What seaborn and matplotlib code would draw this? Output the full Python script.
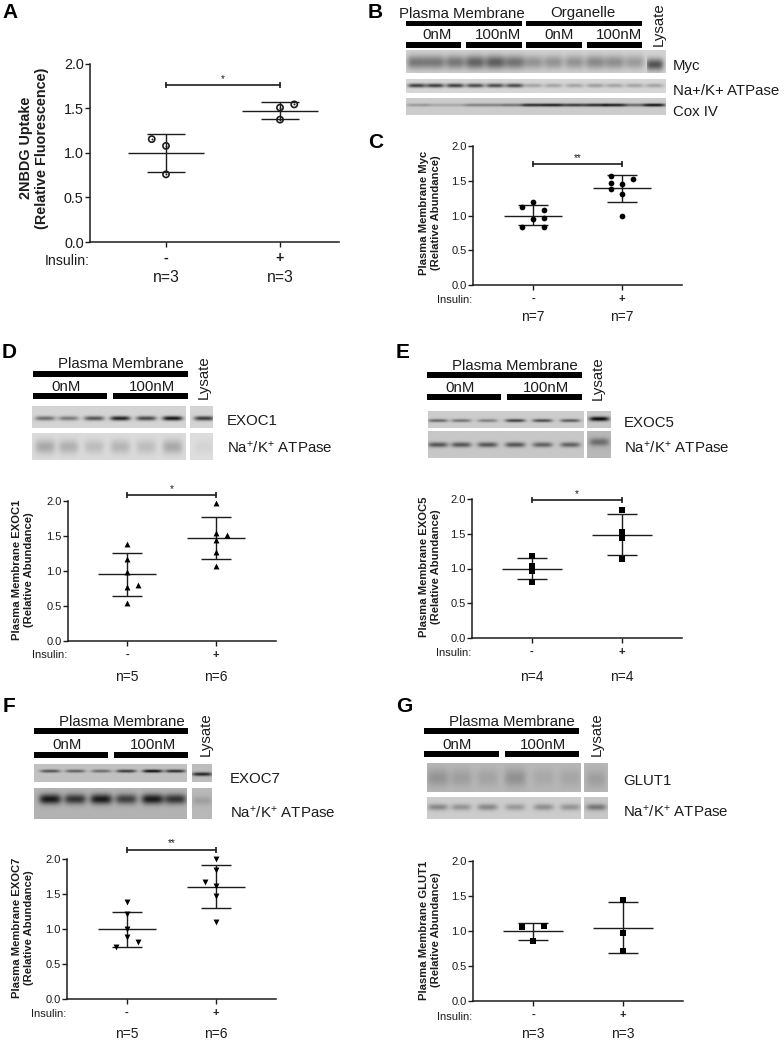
import numpy as np
import seaborn as sns
from matplotlib import pyplot as plt
from matplotlib.patches import Rectangle

# Values
# Panel A
a_minus = [1.156, 1.08, 0.76]
a_minus_col = [-0.125, 0, 0]
a_plus = [1.546, 1.51, 1.375]
a_plus_col = [0.125, 0, 0]
a_mean = [1.0, 1.475]
a_upper = [1.21, 1.57]
a_lower = [0.79, 1.385]
# Panel C
c_minus = [1.127, 1.19, 1.08, 0.95, 0.97, 0.835, 0.84]
c_minus_col = [-0.125, 0, 0.125, 0, 0.125, -0.125, 0.125]
c_plus = [1.575, 1.465, 1.46, 1.53, 1.385, 1.31, 0.99]
c_plus_col = [-0.125, -0.125, 0, 0.125, -0.125, 0, 0]
c_mean = [1.0, 1.39]
c_upper = [1.145, 1.585]
c_lower = [0.86, 1.19]
# Panel D
d_minus = [1.39, 1.17, 0.98, 0.77, 0.80, 0.54]
d_minus_col = [0, 0, 0, 0, 0.125, 0]
d_plus = [1.97, 1.54, 1.51, 1.44, 1.275, 1.07]
d_plus_col = [0, 0, 0.125, 0, 0, 0]
d_mean = [0.955, 1.475]
d_upper = [1.26, 1.775]
d_lower = [0.645, 1.175]
# Panel E
e_minus = [1.175, 1.04, 0.97, 0.805]
e_plus = [1.84, 1.52, 1.44, 1.13]
e_mean = [1.0, 1.48]
e_upper = [1.15, 1.78]
e_lower = [0.845, 1.19]
# Panel F
f_minus = [1.39, 1.22, 1.0, 0.885, 0.81, 0.745]
f_minus_col = [0, 0, 0, 0, 0.125, -0.125]
f_plus = [1.995, 1.85, 1.67, 1.61, 1.47, 1.095]
f_plus_col = [0, 0, -0.125, 0, 0, 0]
f_mean = [1.0, 1.605]
f_upper = [1.25, 1.92]
f_lower = [0.745, 1.295]
# Panel G
g_minus = [1.057, 1.067, 0.857]
g_minus_col = [-0.125, 0.125, 0]
g_plus = [1.45, 0.97, 0.715]
g_mean = [0.995, 1.05]
g_upper = [1.11, 1.42]
g_lower = [0.875, 0.68]

y_ticks = [0.0, 0.5, 1.0, 1.5, 2.0]
group_labels = ['-', '+']

# Band darkness per lane on the blots
b_myc = [.36, .36, .36, .44, .46, .38, .25, .25, .25, .29, .27, .22]
b_myc_lys = [.5]
b_na = [.6, .6, .6, .55, .55, .55, .2, .2, .2, .22, .2, .2, .2]
b_cox = [.2, .15, .15, .3, .3, .35, .65, .7, .6, .65, .7, .4, .75]
d_exoc1 = [.4, .35, .5, .7, .55, .75]
d_exoc1_lys = [.6]
d_na = [.2, .17, .12, .15, .12, .2]
d_na_lys = [.04]
e_exoc5 = [.4, .35, .3, .55, .5, .45]
e_exoc5_lys = [.75]
e_na = [.45, .45, .45, .45, .4, .4]
e_na_lys = [.3]
f_exoc7 = [.45, .4, .35, .55, .72, .6]
f_exoc7_lys = [.6]
f_na = [.6, .5, .6, .45, .6, .5]
f_na_lys = [.1]
g_glut1 = [.14, .1, .08, .15, .06, .07]
g_glut1_lys = [.1]
g_na = [.27, .22, .27, .2, .24, .22]
g_na_lys = [.32]

W, H = 784, 1043
INK = '#1c1c1c'

sns.set_style('ticks')
plt.rcParams['font.family'] = ['Liberation Sans', 'DejaVu Sans']
plt.rcParams['mathtext.default'] = 'regular'
plt.rcParams['text.color'] = INK
plt.rcParams['axes.labelcolor'] = INK
plt.rcParams['xtick.color'] = INK
plt.rcParams['ytick.color'] = INK

fig = plt.figure(figsize=(W / 100, H / 100), dpi=100)

# Full page axes in pixels for the blots and their labels
page = fig.add_axes([0, 0, 1, 1], zorder=0)
page.axis('off')


def blot(box, lanes, dark, bg, yfrac, sy, sx=9):
    x0, x1, y0, y1 = box
    xx, yy = np.meshgrid(np.arange(x0, x1, 0.5), np.arange(y0, y1, 0.5))
    img = np.full(xx.shape, float(bg))
    cy = y0 + yfrac * (y1 - y0)
    for cx, d in zip(lanes, dark):
        img -= d * np.exp(-(np.abs(xx - cx) / sx) ** 4 - ((yy - cy) / sy) ** 2)
    page.imshow(np.clip(img, 0, 1), cmap='gray', vmin=0, vmax=1, aspect='auto',
                extent=(x0, x1, y1, y0), interpolation='bilinear')


def header(left, mid0, mid1, right, y_top, y_sub, y_text, y_sub_text, lys_x, lys_y):
    page.add_patch(Rectangle((left, y_top), right - left, 5.5, color='black', lw=0))
    page.add_patch(Rectangle((left, y_sub), mid0 - left, 5.5, color='black', lw=0))
    page.add_patch(Rectangle((mid1, y_sub), right - mid1, 5.5, color='black', lw=0))
    page.text(left + 88, y_text, 'Plasma Membrane', fontsize=10.8, ha='center', va='center')
    page.text(left + 33, y_sub_text, '0nM', fontsize=10.8, ha='center', va='center')
    page.text(left + 119, y_sub_text, '100nM', fontsize=10.8, ha='center', va='center')
    page.text(lys_x, lys_y, 'Lysate', fontsize=10.8, rotation=90, ha='center', va='center')


def chart(px, minus, plus, mean, upper, lower, marker, size, minus_col=None, plus_col=None,
          ylabel='', label_xy=(0, 0), tick_fs=8, label_fs=8.1, lab_fs=8, n_fs=10,
          n_text=('', ''), ins_y=0, n_y=0, bracket=None, star='*', hollow=False):
    left, right, top, bottom, t0, t1 = px
    ax = fig.add_axes([left / W, 1 - bottom / H, (right - left) / W, (bottom - top) / H], zorder=2)
    ax.patch.set_alpha(0)

    minus_col = minus_col if minus_col is not None else [0] * len(minus)
    plus_col = plus_col if plus_col is not None else [0] * len(plus)
    xs = list(minus_col) + [1 + c for c in plus_col]
    ys = list(minus) + list(plus)
    if hollow:
        sns.scatterplot(x=xs, y=ys, marker=marker, s=size, color='none', edgecolor=INK,
                        linewidth=1.2, ax=ax, legend=False, clip_on=False, zorder=3)
        sns.scatterplot(x=xs, y=ys, marker=marker, s=2, color=INK, linewidth=0, ax=ax,
                        legend=False, zorder=3)
    else:
        sns.scatterplot(x=xs, y=ys, marker=marker, s=size, color='black', edgecolor='black',
                        linewidth=0, ax=ax, legend=False, clip_on=False, zorder=3)

    for i in range(2):
        ax.hlines(mean[i], i - 0.33, i + 0.33, color=INK, lw=1.0)
        ax.hlines([upper[i], lower[i]], i - 0.17, i + 0.17, color=INK, lw=1.0)
        ax.vlines(i, lower[i], upper[i], color=INK, lw=1.0)

    if bracket is not None:
        ax.plot([0, 1], [bracket, bracket], color=INK, lw=1.2, marker='|', ms=5, mew=1.2,
                clip_on=False)
        ax.annotate(star, (0.5, bracket), xytext=(0, 1), textcoords='offset points',
                    ha='center', va='bottom', fontsize=7, annotation_clip=False)

    ax.set_xlim((left - t0) / (t1 - t0), (right - t0) / (t1 - t0))
    ax.set_ylim(0, 2)
    ax.set_yticks(y_ticks, [f'{v:.1f}' for v in y_ticks])
    ax.set_xticks([0, 1], group_labels, fontweight='bold')
    ax.tick_params(axis='y', labelsize=tick_fs, length=3.5, width=1.0, pad=1)
    ax.tick_params(axis='x', labelsize=lab_fs, length=3.5, width=1.0, pad=3)
    sns.despine(ax=ax)
    ax.spines['left'].set_linewidth(1.1)
    ax.spines['bottom'].set_linewidth(1.1)
    ax.spines['left'].set_color(INK)
    ax.spines['bottom'].set_color(INK)

    ax.set_ylabel(ylabel, fontsize=label_fs, fontweight='bold', va='center', linespacing=1.2)
    ax.yaxis.set_label_coords((label_xy[0] - left) / (right - left),
                              (bottom - label_xy[1]) / (bottom - top))

    page.text(left - 0.5, ins_y, 'Insulin:', fontsize=lab_fs, ha='right', va='center')
    page.text(t0, n_y, n_text[0], fontsize=n_fs, ha='center', va='center')
    page.text(t1, n_y, n_text[1], fontsize=n_fs, ha='center', va='center')
    return ax


# Blots B
b_lanes = [x / 3 + 370 for x in (140, 195, 255, 315, 375, 433, 490, 550, 613, 675, 733, 793)]
lys_b = 370 + 853 / 3
blot((406, 647, 50, 73), b_lanes, b_myc, .83, .52, 7, 10)
blot((406, 666, 79, 93), b_lanes + [lys_b], b_na, .84, .45, 2)
blot((406, 666, 98, 115), b_lanes + [lys_b], b_cox, .80, .4, 1.5, 11)
blot((647, 666, 50, 73), [lys_b], b_myc_lys, .83, .62, 6, 9)
for box in [(406, 522), (526, 642)]:
    page.add_patch(Rectangle((box[0], 21), box[1] - box[0], 5, color='black', lw=0))
for box in [(406, 461), (466, 522), (526, 582), (587, 642)]:
    page.add_patch(Rectangle((box[0], 42), box[1] - box[0], 5.5, color='black', lw=0))
page.text(462, 14, 'Plasma Membrane', fontsize=10.8, ha='center', va='center')
page.text(583, 13, 'Organelle', fontsize=10.8, ha='center', va='center')
for x, lab in zip([437, 498, 559, 619], ['0nM', '100nM', '0nM', '100nM']):
    page.text(x, 35, lab, fontsize=10.8, ha='center', va='center')
page.text(659, 24, 'Lysate', fontsize=10.8, rotation=90, ha='center', va='center')
page.text(673, 66, 'Myc', fontsize=10.8, va='center')
page.text(673, 91, 'Na+/K+ ATPase', fontsize=10.8, va='center')
page.text(673, 112, 'Cox IV', fontsize=10.8, va='center')

na_label = 'Na$^{+}$/K$^{+}$ ATPase'

# Blots D
lanes_d = [x / 3 for x in (135, 205, 282, 360, 438, 517)]
blot((32, 186, 406, 428), lanes_d, d_exoc1, .83, .55, 2.2, 10)
blot((190, 213, 406, 428), [204], d_exoc1_lys, .83, .55, 2.2, 10)
blot((32, 186, 433, 460), lanes_d, d_na, .86, .5, 7, 10)
blot((190, 213, 433, 460), [204], d_na_lys, .87, .5, 7, 10)
header(33, 107, 113, 188, 371, 393, 364, 387, 204, 377)
page.text(227, 421, 'EXOC1', fontsize=10.8, va='center')
page.text(227, 448, na_label, fontsize=10.8, va='center')

# Blots E
lanes_e = [390 + x / 3 for x in (143, 213, 292, 375, 457, 540)]
blot((428, 584, 411, 428), lanes_e, e_exoc5, .80, .55, 1.6, 10)
blot((587, 611, 411, 428), [599], e_exoc5_lys, .78, .45, 2.2, 10)
blot((428, 584, 431, 458), lanes_e, e_na, .78, .5, 2.5, 10)
blot((587, 611, 431, 458), [599], e_na_lys, .72, .4, 4, 10)
header(427, 501, 507, 582, 372, 394, 366, 388, 598, 378)
page.text(624, 423, 'EXOC5', fontsize=10.8, va='center')
page.text(624, 448, na_label, fontsize=10.8, va='center')

# Blots F
lanes_f = [x / 3 for x in (150, 225, 303, 378, 457, 525)]
blot((34, 187, 764, 782), lanes_f, f_exoc7, .76, .38, 1.5, 10)
blot((192, 212, 764, 782), [202], f_exoc7_lys, .74, .55, 1.8, 10)
blot((34, 187, 788, 819), lanes_f, f_na, .70, .35, 5, 11)
blot((192, 212, 788, 819), [202], f_na_lys, .72, .4, 4, 10)
header(34, 108, 114, 188, 728, 752, 722, 745, 206, 734)
page.text(230, 779, 'EXOC7', fontsize=10.8, va='center')
page.text(230, 813, na_label, fontsize=10.8, va='center')

# Blots G
lanes_g = [390 + x / 3 for x in (143, 213, 292, 375, 460, 540)]
blot((427, 581, 763, 792), lanes_g, g_glut1, .72, .5, 9, 11)
blot((584, 608, 763, 792), [596], g_glut1_lys, .72, .55, 9, 10)
blot((427, 581, 797, 819), lanes_g, g_na, .80, .45, 3.2, 10)
blot((584, 608, 797, 819), [596], g_na_lys, .78, .45, 3.2, 10)
header(424, 499, 505, 579, 728, 751, 722, 745, 597, 734)
page.text(623, 781, 'GLUT1', fontsize=10.8, va='center')
page.text(623, 812, na_label, fontsize=10.8, va='center')

page.set_xlim(0, W)
page.set_ylim(H, 0)

# Scatter panels, pixel box is left, right, top, bottom, first tick, second tick
chart((90, 339, 64, 242, 166, 280), a_minus, a_plus, a_mean, a_upper, a_lower, 'o', 20,
      a_minus_col, a_plus_col, '2NBDG Uptake\n(Relative Fluorescence)', (34, 148),
      tick_fs=10.4, label_fs=10.4, lab_fs=10.2, n_fs=11.3, n_text=('n=3', 'n=3'),
      ins_y=261, n_y=277, bracket=1.76, hollow=True)
chart((473, 682, 146, 285, 533, 622), c_minus, c_plus, c_mean, c_upper, c_lower, 'o', 17,
      c_minus_col, c_plus_col, 'Plasma Membrane Myc\n(Relative Abundance)', (430, 213),
      n_text=('n=7', 'n=7'), ins_y=300, n_y=317, bracket=1.74, star='**')
chart((68, 276, 501, 641, 127, 216), d_minus, d_plus, d_mean, d_upper, d_lower, '^', 18,
      d_minus_col, d_plus_col, 'Plasma Membrane EXOC1\n(Relative Abundance)', (23, 570),
      n_text=('n=5', 'n=6'), ins_y=655, n_y=677, bracket=2.085)
chart((472, 682, 499, 638, 532, 622), e_minus, e_plus, e_mean, e_upper, e_lower, 's', 17,
      None, None, 'Plasma Membrane EXOC5\n(Relative Abundance)', (430, 567),
      n_text=('n=4', 'n=4'), ins_y=653, n_y=677, bracket=1.985)
chart((67, 276, 859, 999, 127, 216), f_minus, f_plus, f_mean, f_upper, f_lower, 'v', 18,
      f_minus_col, f_plus_col, 'Plasma Membrane EXOC7\n(Relative Abundance)', (23, 928),
      n_text=('n=5', 'n=6'), ins_y=1014, n_y=1034, bracket=2.13, star='**')
chart((473, 683, 861, 1001, 533, 623), g_minus, g_plus, g_mean, g_upper, g_lower, 's', 17,
      g_minus_col, None, 'Plasma Membrane GLUT1\n(Relative Abundance)', (430, 930),
      n_text=('n=3', 'n=3'), ins_y=1017, n_y=1034)

# Panel letters
for letter, x, y in [('A', 2, 13), ('B', 368, 12), ('C', 368, 142), ('D', 2, 353),
                     ('E', 396, 352), ('F', 3, 707), ('G', 396, 707)]:
    page.text(x, y, letter, fontsize=15, fontweight='bold', color='black', va='center')

fig.savefig('out.png', dpi=100)
